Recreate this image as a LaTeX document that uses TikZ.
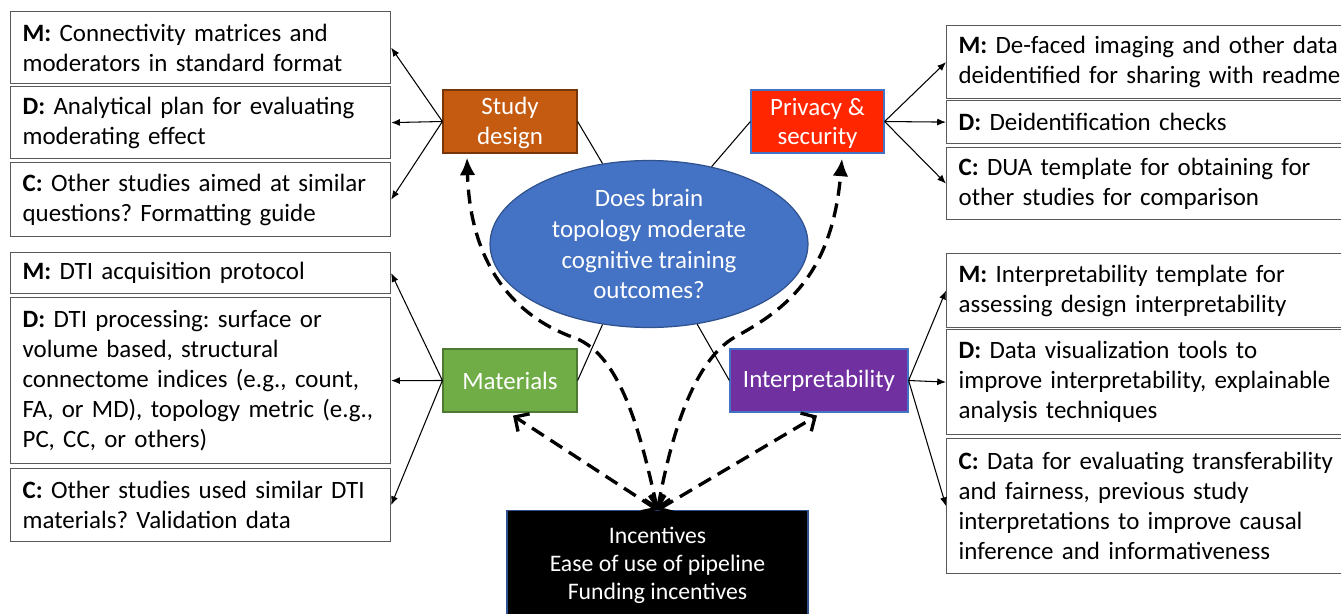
\documentclass[tikz,border=0pt]{standalone}
\usepackage{fontspec}
\setmainfont{Carlito}
\usetikzlibrary{arrows.meta,shapes.geometric,calc}
\frenchspacing

\definecolor{studyorange}{HTML}{C55A11}
\definecolor{privred}{HTML}{FF2600}
\definecolor{matgreen}{HTML}{70AD47}
\definecolor{intpurple}{HTML}{7030A0}
\definecolor{qblue}{HTML}{4472C4}
\definecolor{qborder}{HTML}{2F528F}

\begin{document}
\begin{tikzpicture}[x=0.02cm,y=-0.02cm,
  every node/.style={font=\fontsize{14.2}{17}\selectfont},
  infobox/.style={draw=black!65,line width=0.7pt,anchor=north west,align=left,
    inner xsep=0.24cm,inner ysep=0pt,fill=white},
  leftbox/.style={infobox,text width=7.12cm},
  rightbox/.style={infobox,text width=7.72cm},
  hub/.style={line width=0.7pt,text=white,align=center,minimum height=1.26cm,inner sep=0pt},
  thin arrow/.style={-{Latex[length=5pt,width=4pt]},line width=0.6pt},
  dasharrow/.style={line width=1.9pt,dash pattern=on 8pt off 4.5pt},
  barb/.tip={Straight Barb[length=6pt,width=12pt]},
  bighead/.tip={Latex[length=10pt,width=9pt]}
]
  \path[use as bounding box] (0,0) rectangle (1341,613);
  \clip (0,0) rectangle (1341,613);

  % left column
  \node[leftbox,minimum height=1.44cm] (studyM) at (10,11) {\textbf{M:} Connectivity matrices and\\moderators in standard format};
  \node[leftbox,minimum height=1.44cm] (studyD) at (10,86) {\textbf{D:} Analytical plan for evaluating\\moderating effect};
  \node[leftbox,minimum height=1.48cm] (studyC) at (10,162) {\textbf{C:} Other studies aimed at similar\\questions? Formatting guide};
  \node[leftbox,minimum height=0.82cm] (matM) at (10,252) {\textbf{M:} DTI acquisition protocol};
  \node[leftbox,minimum height=3.32cm] (matD) at (10,297) {\textbf{D:} DTI processing: surface or\\volume based, structural\\connectome indices (e.g., count,\\FA, or MD), topology metric (e.g.,\\PC, CC, or others)};
  \node[leftbox,minimum height=1.46cm] (matC) at (10,468) {\textbf{C:} Other studies used similar DTI\\materials? Validation data};

  % right column
  \node[rightbox,minimum height=1.46cm] (privM) at (946,25) {\textbf{M:} De-faced imaging and other data\\deidentified for sharing with readme};
  \node[rightbox,minimum height=0.86cm] (privD) at (946,100) {\textbf{D:} Deidentification checks};
  \node[rightbox,minimum height=1.44cm] (privC) at (946,147) {\textbf{C:} DUA template for obtaining for\\other studies for comparison};
  \node[rightbox,minimum height=1.48cm] (intM) at (946,253) {\textbf{M:} Interpretability template for\\assessing design interpretability};
  \node[rightbox,minimum height=2.10cm] (intD) at (946,329) {\textbf{D:} Data visualization tools to\\improve interpretability, explainable\\analysis techniques};
  \node[rightbox,minimum height=2.70cm] (intC) at (946,438) {\textbf{C:} Data for evaluating transferability\\and fairness, previous study\\interpretations to improve causal\\inference and informativeness};

  % hubs
  \node[hub,fill=studyorange,draw=studyorange!60!black,minimum width=2.68cm] (study) at (510,121.5) {\strut Study\\design};
  \node[hub,fill=privred,draw=qblue,minimum width=2.66cm] (priv) at (817.5,121.5) {\strut Privacy \&\\security};
  \node[hub,fill=matgreen,draw=matgreen!70!black,minimum width=2.68cm] (mat) at (510,380.5) {Materials};
  \node[hub,fill=intpurple,draw=qblue,minimum width=3.56cm] (interp) at (819,380.5) {Interpretability};
  \node[ellipse,fill=qblue,draw=qborder,line width=0.7pt,text=white,align=center,inner sep=0pt,
    minimum width=6.36cm,minimum height=3.34cm,font=\fontsize{14.2}{17.6}\selectfont] (question) at (649,244)
    {Does brain\\topology moderate\\cognitive training\\outcomes?};
  \node[fill=black,draw=qborder,line width=0.7pt,text=white,align=center,anchor=north,
    minimum width=6.02cm,minimum height=2.2cm,inner sep=0pt,font=\fontsize{13.5}{16}\selectfont] (incent) at (657.5,510)
    {Incentives\\Ease of use of pipeline\\Funding incentives};

  % connectors
  \foreach \b in {studyM,studyD,studyC} \draw[thin arrow] (study.west) -- (\b.east);
  \foreach \b in {matM,matD,matC} \draw[thin arrow] (mat.west) -- (\b.east);
  \foreach \b in {privM,privD,privC} \draw[thin arrow] (priv.east) -- (\b.west);
  \foreach \b in {intM,intD,intC} \draw[thin arrow] (interp.east) -- (\b.west);
  \draw[line width=0.6pt] (study.east) -- (question.120);
  \draw[line width=0.6pt] (priv.west) -- (question.51);
  \draw[line width=0.6pt] (mat.east) -- (question.240);
  \draw[line width=0.6pt] (interp.west) -- (question.301);

  % incentives
  \draw[dasharrow,{barb}-{bighead}] (incent.north) .. controls (640,430) and (620,355) .. (575,338)
    .. controls (510,315) and (470,260) .. ($(study.south)+(-43,4)$);
  \draw[dasharrow,{barb}-{bighead}] (incent.north) .. controls (672,430) and (695,360) .. (735,337)
    .. controls (785,310) and (832,275) .. ($(priv.south)+(24.5,5)$);
  \draw[dasharrow,{barb}-{barb}] (incent.north) -- ($(mat.south)+(3,3)$);
  \draw[dasharrow,{barb}-{barb}] (incent.north) -- ($(interp.south)+(-2,3)$);
\end{tikzpicture}
\end{document}
